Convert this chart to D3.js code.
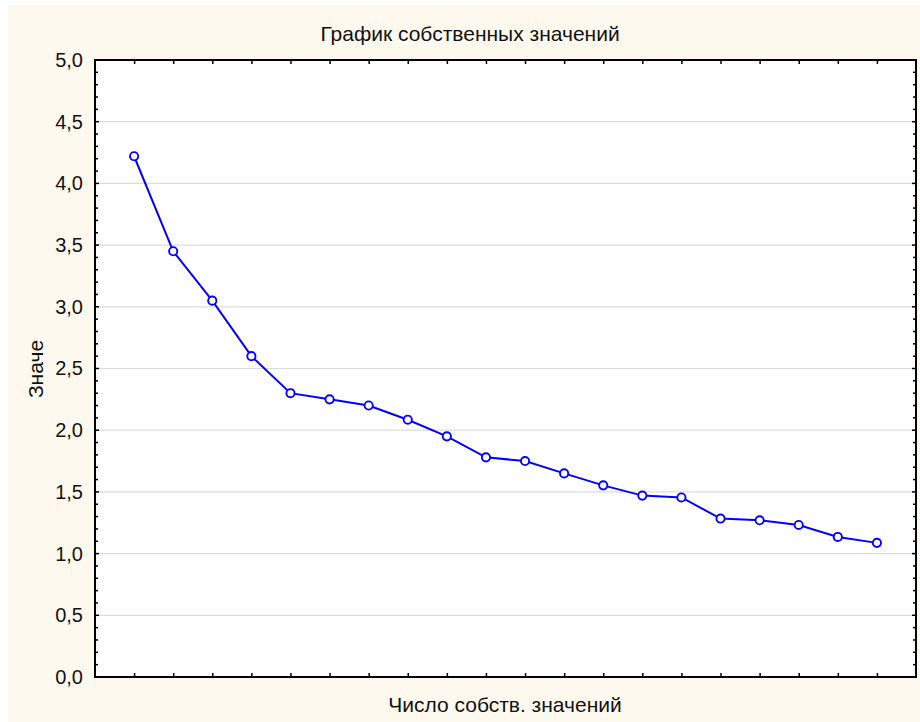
<!DOCTYPE html>
<html><head><meta charset="utf-8">
<script src="https://cdn.jsdelivr.net/npm/d3@7"></script>
<style>body{margin:0;background:#fff;}svg{display:block;font-family:"Liberation Sans",Arial,sans-serif;}</style>
</head><body>
<svg id="c" width="920" height="722"></svg>
<script>
const eigenIndex = d3.range(1, 21);
const eigenValues = [4.22, 3.45, 3.05, 2.60, 2.30, 2.25, 2.20, 2.085, 1.95, 1.78, 1.75, 1.65, 1.553, 1.47, 1.455, 1.284, 1.27, 1.232, 1.135, 1.087];
const yTicks = [0, 0.5, 1, 1.5, 2, 2.5, 3, 3.5, 4, 4.5, 5];
const titleText = "График собственных значений";
const xLabel = "Число собств. значений";
const yLabel = "Значе";

const svg = d3.select("#c");
svg.append("rect").attr("x",8).attr("y",5).attr("width",912).attr("height",717).attr("fill","#fef9ef");
const L=95, R=916, T=60, B=677;
const x = d3.scaleLinear().domain([0,21]).range([L,R]);
const y = d3.scaleLinear().domain([0,5]).range([B,T]);
svg.append("rect").attr("x",L).attr("y",T).attr("width",R-L).attr("height",B-T).attr("fill","#fff");
// grid
svg.append("g").selectAll("line").data(yTicks.filter(v=>v>0&&v<5)).join("line")
  .attr("x1",L).attr("x2",R).attr("y1",d=>y(d)).attr("y2",d=>y(d))
  .attr("stroke","#dcdcdc").attr("stroke-width",1.2);
const fmt = d=>d3.format(".1f")(d).replace(".",",");
const minor = d3.range(0,51).map(i=>i/10);
// left axis
const gl = svg.append("g").attr("transform",`translate(${L},0)`)
  .call(d3.axisLeft(y).tickValues(yTicks).tickFormat(fmt).tickSize(0).tickPadding(12));
gl.select(".domain").remove();
gl.selectAll("text").attr("font-size",20).attr("fill","#111").attr("font-family","'Liberation Sans',Arial,sans-serif");
svg.append("g").selectAll("line").data(minor).join("line")
  .attr("x1",L).attr("x2",(d,i)=>L+(i%5===0?4:3)).attr("y1",d=>y(d)).attr("y2",d=>y(d))
  .attr("stroke","#000").attr("stroke-width",1.5);
svg.append("g").selectAll("line").data(minor).join("line")
  .attr("x1",R).attr("x2",(d,i)=>R-(i%5===0?4:3)).attr("y1",d=>y(d)).attr("y2",d=>y(d))
  .attr("stroke","#000").attr("stroke-width",1.5);
// x ticks top/bottom
svg.append("g").attr("transform",`translate(0,${B})`)
  .call(d3.axisBottom(x).tickValues(eigenIndex).tickSize(-4).tickFormat(""))
  .call(g=>{g.select(".domain").remove();g.selectAll("line").attr("stroke","#000").attr("stroke-width",1.5);});
svg.append("g").attr("transform",`translate(0,${T})`)
  .call(d3.axisTop(x).tickValues(eigenIndex).tickSize(-4).tickFormat(""))
  .call(g=>{g.select(".domain").remove();g.selectAll("line").attr("stroke","#000").attr("stroke-width",1.5);});
// frame
svg.append("rect").attr("x",L).attr("y",T).attr("width",R-L).attr("height",B-T)
  .attr("fill","none").attr("stroke","#000").attr("stroke-width",2);
// line
svg.append("path").datum(eigenValues)
  .attr("d",d3.line().x((d,i)=>x(eigenIndex[i])).y(d=>y(d)))
  .attr("fill","none").attr("stroke","#0000ff").attr("stroke-width",2);
svg.append("g").selectAll("circle").data(eigenValues).join("circle")
  .attr("cx",(d,i)=>x(eigenIndex[i])).attr("cy",d=>y(d)).attr("r",4.1)
  .attr("fill","#fff").attr("stroke","#0000ff").attr("stroke-width",1.9);
// labels
svg.append("text").attr("x",470).attr("y",41).attr("text-anchor","middle").attr("font-size",21).attr("fill","#111").text(titleText);
svg.append("text").attr("x",505).attr("y",712).attr("text-anchor","middle").attr("font-size",21).attr("fill","#111").text(xLabel);
svg.append("text").attr("transform","translate(43,369) rotate(-90)").attr("text-anchor","middle").attr("font-size",21).attr("fill","#111").text(yLabel);
</script>
</body></html>
